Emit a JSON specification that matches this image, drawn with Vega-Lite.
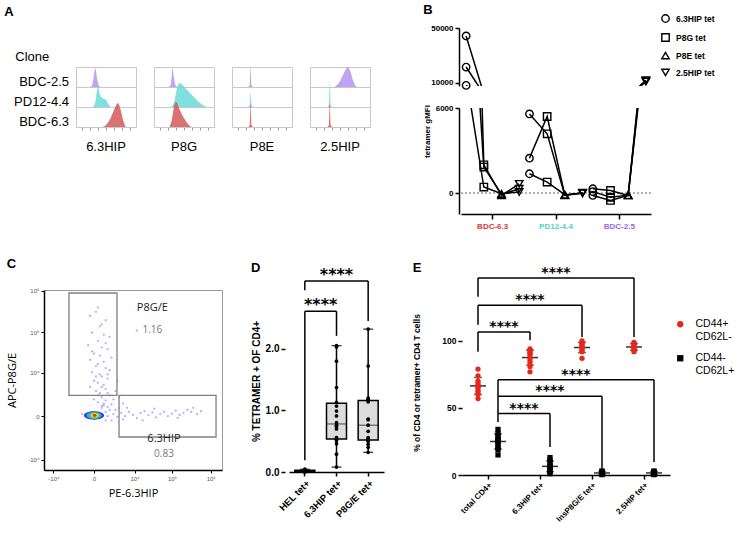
{
  "$schema": "https://vega.github.io/schema/vega-lite/v6.json",
  "padding": {"left": 4, "top": 4, "right": 0, "bottom": 0},
  "config": {
    "font": "Liberation Sans",
    "view": {"stroke": null},
    "axis": {"grid": false, "domainColor": "black", "tickColor": "black", "labelColor": "black", "titleColor": "black", "labelFont": "Liberation Sans", "titleFont": "Liberation Sans"},
    "title": {"fontSize": 13, "fontWeight": "bold", "anchor": "start", "frame": "bounds", "color": "black", "font": "Liberation Sans"},
    "header": {"labelFont": "Liberation Sans", "labelColor": "black"},
    "legend": {"labelFont": "Liberation Sans", "labelColor": "black"}
  },
  "datasets": {
    "hist": [
      {"tet": "6.3HIP", "clone": "BDC-2.5", "x": 0.22, "d": 0}, {"tet": "6.3HIP", "clone": "BDC-2.5", "x": 0.26, "d": 0.05}, {"tet": "6.3HIP", "clone": "BDC-2.5", "x": 0.29, "d": 0.4}, {"tet": "6.3HIP", "clone": "BDC-2.5", "x": 0.32, "d": 0.95}, {"tet": "6.3HIP", "clone": "BDC-2.5", "x": 0.35, "d": 0.45}, {"tet": "6.3HIP", "clone": "BDC-2.5", "x": 0.38, "d": 0.08}, {"tet": "6.3HIP", "clone": "BDC-2.5", "x": 0.42, "d": 0},
      {"tet": "6.3HIP", "clone": "PD12-4.4", "x": 0.28, "d": 0}, {"tet": "6.3HIP", "clone": "PD12-4.4", "x": 0.32, "d": 0.2}, {"tet": "6.3HIP", "clone": "PD12-4.4", "x": 0.35, "d": 0.8}, {"tet": "6.3HIP", "clone": "PD12-4.4", "x": 0.37, "d": 1.0}, {"tet": "6.3HIP", "clone": "PD12-4.4", "x": 0.40, "d": 0.6}, {"tet": "6.3HIP", "clone": "PD12-4.4", "x": 0.44, "d": 0.45}, {"tet": "6.3HIP", "clone": "PD12-4.4", "x": 0.50, "d": 0.35}, {"tet": "6.3HIP", "clone": "PD12-4.4", "x": 0.55, "d": 0.1}, {"tet": "6.3HIP", "clone": "PD12-4.4", "x": 0.58, "d": 0},
      {"tet": "6.3HIP", "clone": "BDC-6.3", "x": 0.44, "d": 0}, {"tet": "6.3HIP", "clone": "BDC-6.3", "x": 0.50, "d": 0.1}, {"tet": "6.3HIP", "clone": "BDC-6.3", "x": 0.56, "d": 0.35}, {"tet": "6.3HIP", "clone": "BDC-6.3", "x": 0.62, "d": 0.75}, {"tet": "6.3HIP", "clone": "BDC-6.3", "x": 0.67, "d": 1.1}, {"tet": "6.3HIP", "clone": "BDC-6.3", "x": 0.70, "d": 1.2}, {"tet": "6.3HIP", "clone": "BDC-6.3", "x": 0.74, "d": 0.9}, {"tet": "6.3HIP", "clone": "BDC-6.3", "x": 0.78, "d": 0.4}, {"tet": "6.3HIP", "clone": "BDC-6.3", "x": 0.82, "d": 0.05}, {"tet": "6.3HIP", "clone": "BDC-6.3", "x": 0.84, "d": 0},
      {"tet": "P8G", "clone": "BDC-2.5", "x": 0.23, "d": 0}, {"tet": "P8G", "clone": "BDC-2.5", "x": 0.27, "d": 0.05}, {"tet": "P8G", "clone": "BDC-2.5", "x": 0.29, "d": 0.4}, {"tet": "P8G", "clone": "BDC-2.5", "x": 0.31, "d": 0.95}, {"tet": "P8G", "clone": "BDC-2.5", "x": 0.33, "d": 0.5}, {"tet": "P8G", "clone": "BDC-2.5", "x": 0.36, "d": 0.08}, {"tet": "P8G", "clone": "BDC-2.5", "x": 0.40, "d": 0},
      {"tet": "P8G", "clone": "PD12-4.4", "x": 0.28, "d": 0}, {"tet": "P8G", "clone": "PD12-4.4", "x": 0.34, "d": 0.3}, {"tet": "P8G", "clone": "PD12-4.4", "x": 0.38, "d": 0.9}, {"tet": "P8G", "clone": "PD12-4.4", "x": 0.42, "d": 1.2}, {"tet": "P8G", "clone": "PD12-4.4", "x": 0.46, "d": 1.15}, {"tet": "P8G", "clone": "PD12-4.4", "x": 0.52, "d": 0.95}, {"tet": "P8G", "clone": "PD12-4.4", "x": 0.60, "d": 0.7}, {"tet": "P8G", "clone": "PD12-4.4", "x": 0.68, "d": 0.45}, {"tet": "P8G", "clone": "PD12-4.4", "x": 0.76, "d": 0.22}, {"tet": "P8G", "clone": "PD12-4.4", "x": 0.84, "d": 0.05}, {"tet": "P8G", "clone": "PD12-4.4", "x": 0.88, "d": 0},
      {"tet": "P8G", "clone": "BDC-6.3", "x": 0.26, "d": 0}, {"tet": "P8G", "clone": "BDC-6.3", "x": 0.30, "d": 0.4}, {"tet": "P8G", "clone": "BDC-6.3", "x": 0.34, "d": 1.1}, {"tet": "P8G", "clone": "BDC-6.3", "x": 0.37, "d": 1.25}, {"tet": "P8G", "clone": "BDC-6.3", "x": 0.41, "d": 1.0}, {"tet": "P8G", "clone": "BDC-6.3", "x": 0.47, "d": 0.6}, {"tet": "P8G", "clone": "BDC-6.3", "x": 0.53, "d": 0.3}, {"tet": "P8G", "clone": "BDC-6.3", "x": 0.58, "d": 0.1}, {"tet": "P8G", "clone": "BDC-6.3", "x": 0.62, "d": 0},
      {"tet": "P8E", "clone": "BDC-2.5", "x": 0.27, "d": 0}, {"tet": "P8E", "clone": "BDC-2.5", "x": 0.295, "d": 0.1}, {"tet": "P8E", "clone": "BDC-2.5", "x": 0.31, "d": 1.0}, {"tet": "P8E", "clone": "BDC-2.5", "x": 0.325, "d": 0.1}, {"tet": "P8E", "clone": "BDC-2.5", "x": 0.35, "d": 0},
      {"tet": "P8E", "clone": "PD12-4.4", "x": 0.27, "d": 0}, {"tet": "P8E", "clone": "PD12-4.4", "x": 0.295, "d": 0.1}, {"tet": "P8E", "clone": "PD12-4.4", "x": 0.31, "d": 0.7}, {"tet": "P8E", "clone": "PD12-4.4", "x": 0.325, "d": 0.1}, {"tet": "P8E", "clone": "PD12-4.4", "x": 0.35, "d": 0},
      {"tet": "P8E", "clone": "BDC-6.3", "x": 0.27, "d": 0}, {"tet": "P8E", "clone": "BDC-6.3", "x": 0.295, "d": 0.1}, {"tet": "P8E", "clone": "BDC-6.3", "x": 0.31, "d": 1.2}, {"tet": "P8E", "clone": "BDC-6.3", "x": 0.325, "d": 0.1}, {"tet": "P8E", "clone": "BDC-6.3", "x": 0.35, "d": 0},
      {"tet": "2.5HIP", "clone": "BDC-2.5", "x": 0.40, "d": 0}, {"tet": "2.5HIP", "clone": "BDC-2.5", "x": 0.45, "d": 0.1}, {"tet": "2.5HIP", "clone": "BDC-2.5", "x": 0.50, "d": 0.3}, {"tet": "2.5HIP", "clone": "BDC-2.5", "x": 0.55, "d": 0.6}, {"tet": "2.5HIP", "clone": "BDC-2.5", "x": 0.60, "d": 0.9}, {"tet": "2.5HIP", "clone": "BDC-2.5", "x": 0.63, "d": 1.0}, {"tet": "2.5HIP", "clone": "BDC-2.5", "x": 0.67, "d": 0.8}, {"tet": "2.5HIP", "clone": "BDC-2.5", "x": 0.71, "d": 0.4}, {"tet": "2.5HIP", "clone": "BDC-2.5", "x": 0.75, "d": 0.1}, {"tet": "2.5HIP", "clone": "BDC-2.5", "x": 0.78, "d": 0},
      {"tet": "2.5HIP", "clone": "PD12-4.4", "x": 0.29, "d": 0}, {"tet": "2.5HIP", "clone": "PD12-4.4", "x": 0.315, "d": 0.1}, {"tet": "2.5HIP", "clone": "PD12-4.4", "x": 0.33, "d": 1.3}, {"tet": "2.5HIP", "clone": "PD12-4.4", "x": 0.345, "d": 0.1}, {"tet": "2.5HIP", "clone": "PD12-4.4", "x": 0.37, "d": 0},
      {"tet": "2.5HIP", "clone": "BDC-6.3", "x": 0.29, "d": 0}, {"tet": "2.5HIP", "clone": "BDC-6.3", "x": 0.315, "d": 0.1}, {"tet": "2.5HIP", "clone": "BDC-6.3", "x": 0.33, "d": 1.25}, {"tet": "2.5HIP", "clone": "BDC-6.3", "x": 0.345, "d": 0.1}, {"tet": "2.5HIP", "clone": "BDC-6.3", "x": 0.37, "d": 0}
    ],
    "clones": [{"clone": "BDC-2.5"}, {"clone": "PD12-4.4"}, {"clone": "BDC-6.3"}],
    "gmfi": [
      {"clone": "BDC-6.3", "rep": 1, "tet": "6.3HIP tet", "v": 44200}, {"clone": "BDC-6.3", "rep": 1, "tet": "P8G tet", "v": 1990}, {"clone": "BDC-6.3", "rep": 1, "tet": "P8E tet", "v": -170}, {"clone": "BDC-6.3", "rep": 1, "tet": "2.5HIP tet", "v": 650},
      {"clone": "BDC-6.3", "rep": 2, "tet": "6.3HIP tet", "v": 21600}, {"clone": "BDC-6.3", "rep": 2, "tet": "P8G tet", "v": 1830}, {"clone": "BDC-6.3", "rep": 2, "tet": "P8E tet", "v": -100}, {"clone": "BDC-6.3", "rep": 2, "tet": "2.5HIP tet", "v": 300},
      {"clone": "BDC-6.3", "rep": 3, "tet": "6.3HIP tet", "v": 8250}, {"clone": "BDC-6.3", "rep": 3, "tet": "P8G tet", "v": 420}, {"clone": "BDC-6.3", "rep": 3, "tet": "P8E tet", "v": -50}, {"clone": "BDC-6.3", "rep": 3, "tet": "2.5HIP tet", "v": 70},
      {"clone": "PD12-4.4", "rep": 1, "tet": "6.3HIP tet", "v": 5580}, {"clone": "PD12-4.4", "rep": 1, "tet": "P8G tet", "v": 4180}, {"clone": "PD12-4.4", "rep": 1, "tet": "P8E tet", "v": -170}, {"clone": "PD12-4.4", "rep": 1, "tet": "2.5HIP tet", "v": 0},
      {"clone": "PD12-4.4", "rep": 2, "tet": "6.3HIP tet", "v": 2460}, {"clone": "PD12-4.4", "rep": 2, "tet": "P8G tet", "v": 5400}, {"clone": "PD12-4.4", "rep": 2, "tet": "P8E tet", "v": -150}, {"clone": "PD12-4.4", "rep": 2, "tet": "2.5HIP tet", "v": 20},
      {"clone": "PD12-4.4", "rep": 3, "tet": "6.3HIP tet", "v": 1360}, {"clone": "PD12-4.4", "rep": 3, "tet": "P8G tet", "v": 770}, {"clone": "PD12-4.4", "rep": 3, "tet": "P8E tet", "v": -120}, {"clone": "PD12-4.4", "rep": 3, "tet": "2.5HIP tet", "v": -20},
      {"clone": "BDC-2.5", "rep": 1, "tet": "6.3HIP tet", "v": 300}, {"clone": "BDC-2.5", "rep": 1, "tet": "P8G tet", "v": 180}, {"clone": "BDC-2.5", "rep": 1, "tet": "P8E tet", "v": -170}, {"clone": "BDC-2.5", "rep": 1, "tet": "2.5HIP tet", "v": 12000},
      {"clone": "BDC-2.5", "rep": 2, "tet": "6.3HIP tet", "v": -170}, {"clone": "BDC-2.5", "rep": 2, "tet": "P8G tet", "v": -520}, {"clone": "BDC-2.5", "rep": 2, "tet": "P8E tet", "v": -170}, {"clone": "BDC-2.5", "rep": 2, "tet": "2.5HIP tet", "v": 11500},
      {"clone": "BDC-2.5", "rep": 3, "tet": "6.3HIP tet", "v": 100}, {"clone": "BDC-2.5", "rep": 3, "tet": "P8G tet", "v": -300}, {"clone": "BDC-2.5", "rep": 3, "tet": "P8E tet", "v": -150}, {"clone": "BDC-2.5", "rep": 3, "tet": "2.5HIP tet", "v": 11000}
    ],
    "events": [
      {"x": -259, "y": 250189}, {"x": 122, "y": 315228}, {"x": 995, "y": 198526}, {"x": 413, "y": 140254}, {"x": -122, "y": 99000}, {"x": 778, "y": 88125}, {"x": 1512, "y": 78433}, {"x": 259, "y": 62096}, {"x": -413, "y": 49119}, {"x": 585, "y": 43668}, {"x": 1239, "y": 38811}, {"x": 0, "y": 30623}, {"x": 413, "y": 27184}, {"x": 1818, "y": 24119}, {"x": -259, "y": 21387}, {"x": 778, "y": 18953}, {"x": 122, "y": 14849}, {"x": 995, "y": 13125}, {"x": 1512, "y": 11589}, {"x": -122, "y": 10220}, {"x": 413, "y": 9000}, {"x": 585, "y": 7913}, {"x": 1239, "y": 6943}, {"x": 0, "y": 6079}, {"x": 259, "y": 5310}, {"x": 778, "y": 4623}, {"x": -259, "y": 4012}, {"x": 995, "y": 3467}, {"x": 122, "y": 2981}, {"x": 413, "y": 2548}, {"x": 1512, "y": 2162}, {"x": 585, "y": 1818}, {"x": 0, "y": 1512}, {"x": 995, "y": 1399}, {"x": 259, "y": 1138}, {"x": 778, "y": 995}, {"x": 1818, "y": 905}, {"x": 1239, "y": 660}, {"x": 2548, "y": 2981}, {"x": 3467, "y": 1818}, {"x": 4623, "y": 995}, {"x": 2981, "y": 6079}, {"x": 11589, "y": 111202},
      {"x": 259, "y": 397107}, {"x": 585, "y": 157489}, {"x": -122, "y": 34481}, {"x": 995, "y": 55234}, {"x": 259, "y": 16783}, {"x": 1239, "y": 9000}, {"x": 122, "y": 7913}, {"x": 585, "y": 4012}, {"x": 1239, "y": 2548}, {"x": 259, "y": 2162}, {"x": 2162, "y": 1512}, {"x": 585, "y": 778},
      {"x": 2162, "y": 122}, {"x": 2981, "y": -47}, {"x": 4012, "y": 202}, {"x": 5310, "y": 0}, {"x": 6943, "y": 259}, {"x": 9000, "y": 72}, {"x": 11589, "y": -122}, {"x": 14849, "y": 175}, {"x": 18953, "y": 318}, {"x": 24119, "y": 47}, {"x": 30623, "y": 230}, {"x": 38811, "y": -72}, {"x": 49119, "y": 122}, {"x": 62096, "y": 259}, {"x": 78433, "y": 0}, {"x": 99000, "y": 148}, {"x": 124893, "y": 349}, {"x": 157489, "y": 72}, {"x": 198526, "y": 202}, {"x": 250189, "y": 413}, {"x": 315228, "y": 259}, {"x": 353813, "y": 585}, {"x": 445684, "y": 122}, {"x": 561341, "y": 318}, {"x": 2548, "y": 413}, {"x": 3467, "y": 585}, {"x": 4623, "y": -202}, {"x": 16783, "y": -259}, {"x": 34481, "y": 514}, {"x": 140254, "y": -96}, {"x": 1818, "y": -259}, {"x": 6079, "y": 585},
      {"x": 995, "y": 259}, {"x": 1239, "y": 0}, {"x": 1512, "y": 413}, {"x": -995, "y": 122}, {"x": 995, "y": -259}, {"x": 585, "y": 585}, {"x": 778, "y": 778}
    ],
    "contour": [
      {"x": 0, "y": 40, "level": 1}, {"x": 0, "y": 40, "level": 2}, {"x": 20, "y": 40, "level": 3}, {"x": 40, "y": 40, "level": 4}, {"x": 40, "y": 40, "level": 5}
    ],
    "gates": [
      {"gate": "P8G/E", "x": -3400, "x2": 2900, "y": 2160, "y2": 890000},
      {"gate": "6.3HIP", "x": 3400, "x2": 1370000, "y": -2160, "y2": 2160}
    ],
    "gatelabels": [
      {"kind": "name", "t": "P8G/E", "x": 30600, "y": 397000},
      {"kind": "freq", "t": "1.16", "x": 30600, "y": 116000},
      {"kind": "name", "t": "6.3HIP", "x": 62000, "y": -2550},
      {"kind": "freq", "t": "0.83", "x": 62000, "y": -6900}
    ],
    "dpts": [
      {"cat": "HEL tet+", "v": 0.0}, {"cat": "HEL tet+", "v": 0.005}, {"cat": "HEL tet+", "v": 0.01}, {"cat": "HEL tet+", "v": 0.01}, {"cat": "HEL tet+", "v": 0.015}, {"cat": "HEL tet+", "v": 0.015}, {"cat": "HEL tet+", "v": 0.02}, {"cat": "HEL tet+", "v": 0.02}, {"cat": "HEL tet+", "v": 0.02}, {"cat": "HEL tet+", "v": 0.025}, {"cat": "HEL tet+", "v": 0.03}, {"cat": "HEL tet+", "v": 0.03}, {"cat": "HEL tet+", "v": 0.035}, {"cat": "HEL tet+", "v": 0.04}, {"cat": "HEL tet+", "v": 0.045},
      {"cat": "6.3HIP tet+", "v": 2.05}, {"cat": "6.3HIP tet+", "v": 2.03}, {"cat": "6.3HIP tet+", "v": 1.80}, {"cat": "6.3HIP tet+", "v": 1.37}, {"cat": "6.3HIP tet+", "v": 1.13}, {"cat": "6.3HIP tet+", "v": 1.07}, {"cat": "6.3HIP tet+", "v": 0.99}, {"cat": "6.3HIP tet+", "v": 0.91}, {"cat": "6.3HIP tet+", "v": 0.80}, {"cat": "6.3HIP tet+", "v": 0.76}, {"cat": "6.3HIP tet+", "v": 0.74}, {"cat": "6.3HIP tet+", "v": 0.70}, {"cat": "6.3HIP tet+", "v": 0.56}, {"cat": "6.3HIP tet+", "v": 0.53}, {"cat": "6.3HIP tet+", "v": 0.51}, {"cat": "6.3HIP tet+", "v": 0.46}, {"cat": "6.3HIP tet+", "v": 0.29}, {"cat": "6.3HIP tet+", "v": 0.08},
      {"cat": "P8G/E tet+", "v": 2.32}, {"cat": "P8G/E tet+", "v": 1.72}, {"cat": "P8G/E tet+", "v": 1.20}, {"cat": "P8G/E tet+", "v": 1.18}, {"cat": "P8G/E tet+", "v": 1.16}, {"cat": "P8G/E tet+", "v": 1.14}, {"cat": "P8G/E tet+", "v": 0.86}, {"cat": "P8G/E tet+", "v": 0.85}, {"cat": "P8G/E tet+", "v": 0.76}, {"cat": "P8G/E tet+", "v": 0.66}, {"cat": "P8G/E tet+", "v": 0.56}, {"cat": "P8G/E tet+", "v": 0.53}, {"cat": "P8G/E tet+", "v": 0.52}, {"cat": "P8G/E tet+", "v": 0.50}, {"cat": "P8G/E tet+", "v": 0.45}, {"cat": "P8G/E tet+", "v": 0.40}, {"cat": "P8G/E tet+", "v": 0.32}
    ],
    "dbr": [
      {"id": "b1", "a": "HEL tet+", "b": "P8G/E tet+", "m": "6.3HIP tet+", "y": 3.10, "s": "****"},
      {"id": "b2", "a": "HEL tet+", "b": "6.3HIP tet+", "m": "6.3HIP tet+", "y": 2.61, "s": "****"}
    ],
    "dlegs": [
      {"a": "HEL tet+", "y": 3.10, "y2": 2.95}, {"a": "P8G/E tet+", "y": 3.10, "y2": 2.45},
      {"a": "HEL tet+", "y": 2.61, "y2": 0.19}, {"a": "6.3HIP tet+", "y": 2.61, "y2": 2.21}
    ],
    "epts": [
      {"cat": "total CD4+", "grp": "CD44+ CD62L-", "v": 79}, {"cat": "total CD4+", "grp": "CD44+ CD62L-", "v": 74}, {"cat": "total CD4+", "grp": "CD44+ CD62L-", "v": 70}, {"cat": "total CD4+", "grp": "CD44+ CD62L-", "v": 68}, {"cat": "total CD4+", "grp": "CD44+ CD62L-", "v": 67}, {"cat": "total CD4+", "grp": "CD44+ CD62L-", "v": 66}, {"cat": "total CD4+", "grp": "CD44+ CD62L-", "v": 65}, {"cat": "total CD4+", "grp": "CD44+ CD62L-", "v": 63}, {"cat": "total CD4+", "grp": "CD44+ CD62L-", "v": 62}, {"cat": "total CD4+", "grp": "CD44+ CD62L-", "v": 60}, {"cat": "total CD4+", "grp": "CD44+ CD62L-", "v": 57},
      {"cat": "6.3HIP tet+", "grp": "CD44+ CD62L-", "v": 94}, {"cat": "6.3HIP tet+", "grp": "CD44+ CD62L-", "v": 93}, {"cat": "6.3HIP tet+", "grp": "CD44+ CD62L-", "v": 92}, {"cat": "6.3HIP tet+", "grp": "CD44+ CD62L-", "v": 91}, {"cat": "6.3HIP tet+", "grp": "CD44+ CD62L-", "v": 90}, {"cat": "6.3HIP tet+", "grp": "CD44+ CD62L-", "v": 88}, {"cat": "6.3HIP tet+", "grp": "CD44+ CD62L-", "v": 86}, {"cat": "6.3HIP tet+", "grp": "CD44+ CD62L-", "v": 84}, {"cat": "6.3HIP tet+", "grp": "CD44+ CD62L-", "v": 81}, {"cat": "6.3HIP tet+", "grp": "CD44+ CD62L-", "v": 77},
      {"cat": "InsP8G/E tet+", "grp": "CD44+ CD62L-", "v": 100}, {"cat": "InsP8G/E tet+", "grp": "CD44+ CD62L-", "v": 99}, {"cat": "InsP8G/E tet+", "grp": "CD44+ CD62L-", "v": 98}, {"cat": "InsP8G/E tet+", "grp": "CD44+ CD62L-", "v": 97}, {"cat": "InsP8G/E tet+", "grp": "CD44+ CD62L-", "v": 96}, {"cat": "InsP8G/E tet+", "grp": "CD44+ CD62L-", "v": 95}, {"cat": "InsP8G/E tet+", "grp": "CD44+ CD62L-", "v": 94}, {"cat": "InsP8G/E tet+", "grp": "CD44+ CD62L-", "v": 93}, {"cat": "InsP8G/E tet+", "grp": "CD44+ CD62L-", "v": 92}, {"cat": "InsP8G/E tet+", "grp": "CD44+ CD62L-", "v": 87},
      {"cat": "2.5HIP tet+", "grp": "CD44+ CD62L-", "v": 99}, {"cat": "2.5HIP tet+", "grp": "CD44+ CD62L-", "v": 98}, {"cat": "2.5HIP tet+", "grp": "CD44+ CD62L-", "v": 97}, {"cat": "2.5HIP tet+", "grp": "CD44+ CD62L-", "v": 96}, {"cat": "2.5HIP tet+", "grp": "CD44+ CD62L-", "v": 95}, {"cat": "2.5HIP tet+", "grp": "CD44+ CD62L-", "v": 94}, {"cat": "2.5HIP tet+", "grp": "CD44+ CD62L-", "v": 93}, {"cat": "2.5HIP tet+", "grp": "CD44+ CD62L-", "v": 92},
      {"cat": "total CD4+", "grp": "CD44- CD62L+", "v": 34}, {"cat": "total CD4+", "grp": "CD44- CD62L+", "v": 31}, {"cat": "total CD4+", "grp": "CD44- CD62L+", "v": 29}, {"cat": "total CD4+", "grp": "CD44- CD62L+", "v": 27}, {"cat": "total CD4+", "grp": "CD44- CD62L+", "v": 26}, {"cat": "total CD4+", "grp": "CD44- CD62L+", "v": 25}, {"cat": "total CD4+", "grp": "CD44- CD62L+", "v": 23}, {"cat": "total CD4+", "grp": "CD44- CD62L+", "v": 21}, {"cat": "total CD4+", "grp": "CD44- CD62L+", "v": 19}, {"cat": "total CD4+", "grp": "CD44- CD62L+", "v": 15},
      {"cat": "6.3HIP tet+", "grp": "CD44- CD62L+", "v": 13}, {"cat": "6.3HIP tet+", "grp": "CD44- CD62L+", "v": 11}, {"cat": "6.3HIP tet+", "grp": "CD44- CD62L+", "v": 9}, {"cat": "6.3HIP tet+", "grp": "CD44- CD62L+", "v": 7}, {"cat": "6.3HIP tet+", "grp": "CD44- CD62L+", "v": 6}, {"cat": "6.3HIP tet+", "grp": "CD44- CD62L+", "v": 5}, {"cat": "6.3HIP tet+", "grp": "CD44- CD62L+", "v": 4}, {"cat": "6.3HIP tet+", "grp": "CD44- CD62L+", "v": 2}, {"cat": "6.3HIP tet+", "grp": "CD44- CD62L+", "v": 1},
      {"cat": "InsP8G/E tet+", "grp": "CD44- CD62L+", "v": 3}, {"cat": "InsP8G/E tet+", "grp": "CD44- CD62L+", "v": 2.5}, {"cat": "InsP8G/E tet+", "grp": "CD44- CD62L+", "v": 2}, {"cat": "InsP8G/E tet+", "grp": "CD44- CD62L+", "v": 1.5}, {"cat": "InsP8G/E tet+", "grp": "CD44- CD62L+", "v": 1.2}, {"cat": "InsP8G/E tet+", "grp": "CD44- CD62L+", "v": 1}, {"cat": "InsP8G/E tet+", "grp": "CD44- CD62L+", "v": 0.6}, {"cat": "InsP8G/E tet+", "grp": "CD44- CD62L+", "v": 0.3},
      {"cat": "2.5HIP tet+", "grp": "CD44- CD62L+", "v": 3}, {"cat": "2.5HIP tet+", "grp": "CD44- CD62L+", "v": 2.5}, {"cat": "2.5HIP tet+", "grp": "CD44- CD62L+", "v": 2}, {"cat": "2.5HIP tet+", "grp": "CD44- CD62L+", "v": 1.5}, {"cat": "2.5HIP tet+", "grp": "CD44- CD62L+", "v": 1}, {"cat": "2.5HIP tet+", "grp": "CD44- CD62L+", "v": 0.5}, {"cat": "2.5HIP tet+", "grp": "CD44- CD62L+", "v": 0.3}
    ],
    "ebr": [
      {"id": "r1", "grp": "red", "a": "total CD4+", "b": "2.5HIP tet+", "m": "InsP8G/E tet+", "y": 147, "s": "****"},
      {"id": "r2", "grp": "red", "a": "total CD4+", "b": "InsP8G/E tet+", "m": "6.3HIP tet+", "y": 126.6, "s": "****"},
      {"id": "r3", "grp": "red", "a": "total CD4+", "b": "6.3HIP tet+", "m": "6.3HIP tet+", "y": 106.7, "s": "****"},
      {"id": "k4", "grp": "black", "a": "total CD4+", "b": "2.5HIP tet+", "m": "InsP8G/E tet+", "y": 71.1, "s": "****"},
      {"id": "k5", "grp": "black", "a": "total CD4+", "b": "InsP8G/E tet+", "m": "6.3HIP tet+", "y": 58.7, "s": "****"},
      {"id": "k6", "grp": "black", "a": "total CD4+", "b": "6.3HIP tet+", "m": "6.3HIP tet+", "y": 45.8, "s": "****"}
    ],
    "elegs": [
      {"grp": "red", "a": "total CD4+", "y": 147, "y2": 133}, {"grp": "red", "a": "2.5HIP tet+", "y": 147, "y2": 103},
      {"grp": "red", "a": "total CD4+", "y": 126.6, "y2": 112}, {"grp": "red", "a": "InsP8G/E tet+", "y": 126.6, "y2": 103},
      {"grp": "red", "a": "total CD4+", "y": 106.7, "y2": 92}, {"grp": "red", "a": "6.3HIP tet+", "y": 106.7, "y2": 100.5},
      {"grp": "black", "a": "total CD4+", "y": 71.1, "y2": 39.6}, {"grp": "black", "a": "2.5HIP tet+", "y": 71.1, "y2": 9.7},
      {"grp": "black", "a": "InsP8G/E tet+", "y": 58.7, "y2": 4.7}, {"grp": "black", "a": "6.3HIP tet+", "y": 45.8, "y2": 20.9}
    ]
  },
  "resolve": {"scale": {"color": "independent", "shape": "independent", "size": "independent"}},
  "spacing": 27,
  "vconcat": [
    {
      "spacing": 52,
      "resolve": {"scale": {"color": "independent", "shape": "independent", "size": "independent"}},
      "hconcat": [
        {
          "spacing": 2,
          "vconcat": [
            {
              "title": {"text": "A", "offset": 9, "dx": -11},
              "width": 25,
              "height": 36,
              "data": {"values": [{"t": "Clone"}]},
              "mark": {"type": "text", "align": "left", "baseline": "bottom", "fontSize": 13, "font": "Liberation Sans", "color": "black"},
              "encoding": {
                "x": {"datum": -1.15, "type": "quantitative", "scale": {"domain": [0, 1]}, "axis": null},
                "y": {"datum": 0, "type": "quantitative", "scale": {"domain": [0, 1]}, "axis": null},
                "text": {"field": "t"}
              }
            },
            {
              "spacing": 6,
              "hconcat": [
                {
                  "width": 25,
                  "height": 60,
                  "data": {"name": "clones"},
                  "mark": {"type": "text", "align": "right", "fontSize": 13, "font": "Liberation Sans", "color": "black"},
                  "encoding": {
                    "x": {"datum": 1, "type": "quantitative", "scale": {"domain": [0, 1]}, "axis": null},
                    "y": {"field": "clone", "type": "nominal", "bandPosition": 0.75, "sort": ["BDC-2.5", "PD12-4.4", "BDC-6.3"], "scale": {"type": "band", "paddingInner": 0, "paddingOuter": 0}, "axis": null},
                    "text": {"field": "clone"}
                  }
                },
                {
                  "data": {"name": "hist"},
                  "bounds": "flush",
                  "facet": {
                    "row": {"field": "clone", "type": "nominal", "sort": ["BDC-2.5", "PD12-4.4", "BDC-6.3"], "header": {"title": null, "labels": false}},
                    "column": {"field": "tet", "type": "nominal", "sort": ["6.3HIP", "P8G", "P8E", "2.5HIP"], "header": {"title": null, "labelOrient": "bottom", "labelFontSize": 13, "labelPadding": 10}}
                  },
                  "spacing": {"row": 0, "column": 18},
                  "spec": {
                    "width": 60,
                    "height": 20,
                    "view": {"stroke": "#c8c8c8"},
                    "mark": {"type": "area", "interpolate": "monotone", "opacity": 0.8},
                    "encoding": {
                      "x": {"field": "x", "type": "quantitative", "scale": {"domain": [0, 1]}, "axis": {"values": [0.1, 0.23, 0.36, 0.5, 0.64, 0.77, 0.9], "labels": false, "domain": false, "tickSize": 3, "tickColor": "#999", "title": null}},
                      "y": {"field": "d", "type": "quantitative", "stack": null, "scale": {"domain": [0, 1]}, "axis": null},
                      "color": {"field": "clone", "type": "nominal", "scale": {"domain": ["BDC-2.5", "PD12-4.4", "BDC-6.3"], "range": ["#b08cf0", "#5fd8d4", "#d24f4f"]}, "legend": null}
                    }
                  }
                }
              ]
            }
          ]
        },
        {
          "title": {"text": "B", "offset": -3},
          "spacing": 12,
          "resolve": {"scale": {"x": "independent", "xOffset": "independent", "y": "independent", "shape": "independent"}},
          "vconcat": [
            {
              "width": 190,
              "height": 58,
              "data": {"name": "gmfi"},
              "layer": [
                {
                  "mark": {"type": "line", "clip": true, "color": "black", "strokeWidth": 1.5},
                  "encoding": {
                    "x": {"field": "clone", "type": "nominal", "sort": ["BDC-6.3", "PD12-4.4", "BDC-2.5"], "scale": {"type": "band", "paddingInner": 0, "paddingOuter": 0}, "axis": null},
                    "xOffset": {"field": "tet", "type": "nominal", "sort": ["6.3HIP tet", "P8G tet", "P8E tet", "2.5HIP tet"], "scale": {"paddingInner": 0, "paddingOuter": 0.29}},
                    "y": {"field": "v", "type": "quantitative", "scale": {"domain": [7800, 50000], "nice": false, "zero": false}, "axis": {"values": [10000, 20000, 30000, 40000, 50000], "format": "d", "title": null, "labelFontSize": 8, "labelFontWeight": "bold", "tickSize": 4, "domainWidth": 1.5, "tickWidth": 1.5, "labelPadding": 2, "offset": 2}},
                    "detail": [{"field": "clone", "type": "nominal"}, {"field": "rep", "type": "nominal"}],
                    "order": {"value": null}
                  }
                },
                {
                  "transform": [{"filter": "datum.v >= 7800"}],
                  "mark": {"type": "point", "filled": false, "color": "black", "strokeWidth": 1.4, "size": 55, "opacity": 1},
                  "encoding": {
                    "x": {"field": "clone", "type": "nominal", "sort": ["BDC-6.3", "PD12-4.4", "BDC-2.5"]},
                    "xOffset": {"field": "tet", "type": "nominal", "sort": ["6.3HIP tet", "P8G tet", "P8E tet", "2.5HIP tet"]},
                    "y": {"field": "v", "type": "quantitative"},
                    "shape": {"field": "tet", "type": "nominal", "scale": {"domain": ["6.3HIP tet", "P8G tet", "P8E tet", "2.5HIP tet"], "range": ["circle", "square", "triangle-up", "triangle-down"]}, "legend": {"title": null, "orient": "none", "legendX": 200, "legendY": -14, "labelFontSize": 8.5, "labelFontWeight": "bold", "symbolStrokeColor": "black", "symbolStrokeWidth": 1.4, "symbolOpacity": 1, "symbolSize": 55, "rowPadding": 4, "labelOffset": 6}}
                  }
                }
              ]
            },
            {
              "width": 190,
              "height": 106,
              "data": {"name": "gmfi"},
              "layer": [
                {
                  "mark": {"type": "rule", "strokeDash": [2, 2], "color": "#b0b0b0", "strokeWidth": 1},
                  "encoding": {"y": {"datum": 0}}
                },
                {
                  "mark": {"type": "line", "clip": true, "color": "black", "strokeWidth": 1.5},
                  "encoding": {
                    "x": {"field": "clone", "type": "nominal", "sort": ["BDC-6.3", "PD12-4.4", "BDC-2.5"], "scale": {"type": "band", "paddingInner": 0, "paddingOuter": 0}, "axis": {"title": null, "labelAngle": 0, "labelFont": "Liberation Sans", "labelFontSize": 8, "labelFontWeight": "bold", "labelColor": {"expr": "datum.value === 'BDC-6.3' ? '#d9383a' : datum.value === 'PD12-4.4' ? '#4fd3cf' : '#9a66ee'"}, "tickSize": 5, "labelPadding": 3, "domainWidth": 1.5, "tickWidth": 1.5}},
                    "xOffset": {"field": "tet", "type": "nominal", "sort": ["6.3HIP tet", "P8G tet", "P8E tet", "2.5HIP tet"], "scale": {"paddingInner": 0, "paddingOuter": 0.29}},
                    "y": {"field": "v", "type": "quantitative", "scale": {"domain": [-1480, 6000], "nice": false, "zero": false}, "axis": {"values": [0, 2000, 4000, 6000], "format": "d", "title": "tetramer gMFI", "titleFontSize": 8, "titleFontWeight": "bold", "titleY": 23, "labelFontSize": 8, "labelFontWeight": "bold", "tickSize": 4, "domainWidth": 1.5, "tickWidth": 1.5, "labelPadding": 2, "offset": 2}},
                    "detail": [{"field": "clone", "type": "nominal"}, {"field": "rep", "type": "nominal"}],
                    "order": {"value": null}
                  }
                },
                {
                  "transform": [{"filter": "datum.v <= 6000"}],
                  "mark": {"type": "point", "filled": false, "color": "black", "strokeWidth": 1.4, "size": 55, "opacity": 1},
                  "encoding": {
                    "x": {"field": "clone", "type": "nominal", "sort": ["BDC-6.3", "PD12-4.4", "BDC-2.5"]},
                    "xOffset": {"field": "tet", "type": "nominal", "sort": ["6.3HIP tet", "P8G tet", "P8E tet", "2.5HIP tet"]},
                    "y": {"field": "v", "type": "quantitative"},
                    "shape": {"field": "tet", "type": "nominal", "scale": {"domain": ["6.3HIP tet", "P8G tet", "P8E tet", "2.5HIP tet"], "range": ["circle", "square", "triangle-up", "triangle-down"]}, "legend": null}
                  }
                }
              ]
            }
          ]
        }
      ]
    },
    {
      "spacing": 28,
      "resolve": {"scale": {"color": "independent", "shape": "independent", "size": "independent"}},
      "hconcat": [
        {
          "title": {"text": "C", "offset": 17},
          "width": 178,
          "height": 180,
          "view": {"stroke": "#9a9a9a"},
          "layer": [
            {
              "data": {"name": "events"},
              "mark": {"type": "circle", "size": 5, "color": "#6f6ff5", "opacity": 0.55},
              "encoding": {
                "x": {"field": "x", "type": "quantitative", "title": "PE-6.3HIP", "scale": {"type": "symlog", "constant": 1000, "domain": [-18300, 1950000], "nice": false, "zero": false}, "axis": {"titleFont": "Open Sans", "titleFontSize": 11, "titleFontWeight": "normal", "values": [-10000, 0, 10000, 100000, 1000000], "labelExpr": "datum.value == 0 ? '0' : datum.value < 0 ? '-10⁴' : datum.value >= 1000000 ? '10⁶' : datum.value >= 100000 ? '10⁵' : '10⁴'", "labelFontSize": 6, "labelColor": "#555", "tickSize": 3, "domainWidth": 1.5, "titlePadding": 6}},
                "y": {"field": "y", "type": "quantitative", "title": "APC-P8G/E", "scale": {"type": "symlog", "constant": 1000, "domain": [-18500, 1050000], "nice": false, "zero": false}, "axis": {"titleFont": "Open Sans", "titleFontSize": 11, "titleFontWeight": "normal", "values": [-10000, 0, 10000, 100000, 1000000], "labelExpr": "datum.value == 0 ? '0' : datum.value < 0 ? '-10⁴' : datum.value >= 1000000 ? '10⁶' : datum.value >= 100000 ? '10⁵' : '10⁴'", "labelFontSize": 6, "labelColor": "#555", "tickSize": 3, "domainWidth": 1.5, "titlePadding": 10}}
              }
            },
            {
              "data": {"name": "contour"},
              "transform": [{"filter": "datum.level === 1"}],
              "mark": {"type": "point", "filled": true, "opacity": 1, "color": "#2535f5", "size": 400, "shape": "M-1,0A1,0.42,0,1,0,1,0A1,0.42,0,1,0,-1,0Z"},
              "encoding": {"x": {"field": "x", "type": "quantitative", "title": "PE-6.3HIP"}, "y": {"field": "y", "type": "quantitative", "title": "APC-P8G/E"}}
            },
            {
              "data": {"name": "contour"},
              "transform": [{"filter": "datum.level === 2"}],
              "mark": {"type": "point", "filled": true, "opacity": 1, "color": "#27a8f5", "size": 240, "shape": "M-1,0A1,0.45,0,1,0,1,0A1,0.45,0,1,0,-1,0Z"},
              "encoding": {"x": {"field": "x", "type": "quantitative", "title": "PE-6.3HIP"}, "y": {"field": "y", "type": "quantitative", "title": "APC-P8G/E"}}
            },
            {
              "data": {"name": "contour"},
              "transform": [{"filter": "datum.level === 3"}],
              "mark": {"type": "point", "filled": true, "opacity": 1, "color": "#3fd24a", "size": 130, "shape": "M-1,0A1,0.5,0,1,0,1,0A1,0.5,0,1,0,-1,0Z"},
              "encoding": {"x": {"field": "x", "type": "quantitative", "title": "PE-6.3HIP"}, "y": {"field": "y", "type": "quantitative", "title": "APC-P8G/E"}}
            },
            {
              "data": {"name": "contour"},
              "transform": [{"filter": "datum.level === 4"}],
              "mark": {"type": "point", "filled": true, "opacity": 1, "color": "#f2e52a", "size": 60, "shape": "M-1,0A1,0.55,0,1,0,1,0A1,0.55,0,1,0,-1,0Z"},
              "encoding": {"x": {"field": "x", "type": "quantitative", "title": "PE-6.3HIP"}, "y": {"field": "y", "type": "quantitative", "title": "APC-P8G/E"}}
            },
            {
              "data": {"name": "contour"},
              "transform": [{"filter": "datum.level === 5"}],
              "mark": {"type": "point", "filled": true, "opacity": 1, "color": "#ff2a00", "size": 18, "shape": "M-1,0A1,0.7,0,1,0,1,0A1,0.7,0,1,0,-1,0Z"},
              "encoding": {"x": {"field": "x", "type": "quantitative", "title": "PE-6.3HIP"}, "y": {"field": "y", "type": "quantitative", "title": "APC-P8G/E"}}
            },
            {
              "data": {"name": "gates"},
              "mark": {"type": "rect", "filled": false, "stroke": "#808080", "strokeWidth": 1.3},
              "encoding": {
                "x": {"field": "x", "type": "quantitative", "title": "PE-6.3HIP"},
                "x2": {"field": "x2"},
                "y": {"field": "y", "type": "quantitative", "title": "APC-P8G/E"},
                "y2": {"field": "y2"}
              }
            },
            {
              "data": {"name": "gatelabels"},
              "transform": [{"filter": "datum.kind === 'name'"}],
              "mark": {"type": "text", "font": "Open Sans", "fontSize": 11, "color": "#222"},
              "encoding": {
                "x": {"field": "x", "type": "quantitative", "title": "PE-6.3HIP"},
                "y": {"field": "y", "type": "quantitative", "title": "APC-P8G/E"},
                "text": {"field": "t"}
              }
            },
            {
              "data": {"name": "gatelabels"},
              "transform": [{"filter": "datum.kind === 'freq'"}],
              "mark": {"type": "text", "font": "Open Sans", "fontSize": 10, "color": "#777"},
              "encoding": {
                "x": {"field": "x", "type": "quantitative", "title": "PE-6.3HIP"},
                "y": {"field": "y", "type": "quantitative", "title": "APC-P8G/E"},
                "text": {"field": "t"}
              }
            }
          ]
        },
        {
          "title": {"text": "D", "offset": -8},
          "width": 95,
          "height": 182,
          "layer": [
            {
              "data": {"name": "dpts"},
              "mark": {"type": "boxplot", "extent": "min-max", "size": 20, "color": "#dcdcdc", "box": {"stroke": "black", "strokeWidth": 1.5}, "median": {"color": "black", "strokeWidth": 1.5}, "rule": {"color": "black", "strokeWidth": 1.5}, "ticks": {"color": "black", "strokeWidth": 1.5, "size": 10}},
              "encoding": {
                "x": {"field": "cat", "type": "nominal", "title": null, "sort": ["HEL tet+", "6.3HIP tet+", "P8G/E tet+"], "scale": {"domain": ["HEL tet+", "6.3HIP tet+", "P8G/E tet+"], "paddingInner": 0, "paddingOuter": 0}, "axis": {"title": null, "labelAngle": -45, "labelFontSize": 9.5, "labelFontWeight": "bold", "labelAlign": "right", "labelBaseline": "top", "tickSize": 4, "domainWidth": 1.5, "tickWidth": 1.5}},
                "y": {"field": "v", "type": "quantitative", "title": "% TETRAMER + OF CD4+", "scale": {"domain": [0, 2.955], "nice": false}, "axis": {"titleFontSize": 10, "titleFontWeight": "bold", "values": [0, 0.5, 1, 1.5, 2, 2.5], "format": ".1f", "labelFontSize": 10, "labelFontWeight": "bold", "offset": 4, "domain": false, "tickWidth": 1.5, "tickSize": 4}}
              }
            },
            {
              "mark": {"type": "rule", "color": "black", "strokeWidth": 1.5, "xOffset": -4},
              "encoding": {
                "x": {"datum": "HEL tet+", "type": "nominal", "bandPosition": 0},
                "y": {"datum": 0, "type": "quantitative"},
                "y2": {"datum": 2.5}
              }
            },
            {
              "data": {"name": "dpts"},
              "mark": {"type": "circle", "size": 14, "color": "black", "opacity": 1},
              "encoding": {
                "x": {"field": "cat", "type": "nominal", "title": null},
                "y": {"field": "v", "type": "quantitative", "title": "% TETRAMER + OF CD4+"}
              }
            },
            {
              "data": {"name": "dbr"},
              "mark": {"type": "rule", "color": "black", "strokeWidth": 1.5},
              "encoding": {
                "x": {"field": "a", "type": "nominal", "title": null},
                "x2": {"field": "b"},
                "y": {"field": "y", "type": "quantitative", "title": "% TETRAMER + OF CD4+"}
              }
            },
            {
              "data": {"name": "dlegs"},
              "mark": {"type": "rule", "color": "black", "strokeWidth": 1.5},
              "encoding": {
                "x": {"field": "a", "type": "nominal", "title": null},
                "y": {"field": "y", "type": "quantitative", "title": "% TETRAMER + OF CD4+"},
                "y2": {"field": "y2"}
              }
            },
            {
              "data": {"name": "dbr"},
              "transform": [{"filter": "datum.id === 'b1'"}],
              "mark": {"type": "text", "font": "DejaVu Sans", "fontWeight": "bold", "fontSize": 16, "baseline": "alphabetic", "dy": -1, "color": "black"},
              "encoding": {
                "x": {"field": "m", "type": "nominal", "title": null, "bandPosition": 0.5},
                "y": {"field": "y", "type": "quantitative", "title": "% TETRAMER + OF CD4+"},
                "text": {"field": "s"}
              }
            },
            {
              "data": {"name": "dbr"},
              "transform": [{"filter": "datum.id === 'b2'"}],
              "mark": {"type": "text", "font": "DejaVu Sans", "fontWeight": "bold", "fontSize": 16, "baseline": "alphabetic", "dy": -1, "color": "black"},
              "encoding": {
                "x": {"field": "m", "type": "nominal", "title": null, "bandPosition": 0},
                "y": {"field": "y", "type": "quantitative", "title": "% TETRAMER + OF CD4+"},
                "text": {"field": "s"}
              }
            }
          ]
        },
        {
          "title": {"text": "E", "offset": -9},
          "width": 208,
          "height": 185,
          "layer": [
            {
              "data": {"name": "epts"},
              "mark": {"type": "errorbar", "extent": "stdev", "ticks": {"size": 8}, "color": "#333", "thickness": 1.5},
              "encoding": {
                "x": {"field": "cat", "type": "nominal", "title": null, "sort": ["total CD4+", "6.3HIP tet+", "InsP8G/E tet+", "2.5HIP tet+"], "scale": {"domain": ["total CD4+", "6.3HIP tet+", "InsP8G/E tet+", "2.5HIP tet+"], "paddingInner": 0, "paddingOuter": 0}, "axis": {"title": null, "labelAngle": -45, "labelFontSize": 8, "labelFontWeight": "bold", "labelAlign": "right", "labelBaseline": "top", "tickSize": 4, "domainWidth": 1.5, "tickWidth": 1.5}},
                "xOffset": {"field": "grp", "type": "nominal", "scale": {"domain": ["CD44+ CD62L-", "CD44- CD62L+"], "paddingInner": 0, "paddingOuter": 0.3}},
                "y": {"field": "v", "type": "quantitative", "title": "% of CD4 or tetramer+ CD4 T cells", "scale": {"domain": [0, 138], "nice": false}, "axis": {"titleFontSize": 8.5, "titleFontWeight": "bold", "values": [0, 50, 100], "labelFontSize": 8.5, "labelFontWeight": "bold", "domain": false, "tickWidth": 1.5, "tickSize": 4, "titlePadding": 20}}
              }
            },
            {
              "mark": {"type": "rule", "color": "black", "strokeWidth": 1.5},
              "encoding": {
                "x": {"datum": "total CD4+", "type": "nominal", "bandPosition": 0},
                "y": {"datum": 0, "type": "quantitative"},
                "y2": {"datum": 100}
              }
            },
            {
              "data": {"name": "epts"},
              "mark": {"type": "tick", "thickness": 1.5, "size": 16, "color": "#333"},
              "encoding": {
                "x": {"field": "cat", "type": "nominal", "title": null},
                "xOffset": {"field": "grp", "type": "nominal"},
                "y": {"field": "v", "type": "quantitative", "aggregate": "mean", "title": "% of CD4 or tetramer+ CD4 T cells"}
              }
            },
            {
              "data": {"name": "epts"},
              "mark": {"type": "point", "filled": true, "size": 28, "opacity": 1},
              "encoding": {
                "x": {"field": "cat", "type": "nominal", "title": null},
                "xOffset": {"field": "grp", "type": "nominal"},
                "y": {"field": "v", "type": "quantitative", "title": "% of CD4 or tetramer+ CD4 T cells"},
                "color": {"field": "grp", "type": "nominal", "scale": {"domain": ["CD44+ CD62L-", "CD44- CD62L+"], "range": ["#e8261c", "black"]}, "legend": {"title": null, "orient": "none", "legendX": 213, "legendY": 29, "labelExpr": "split(datum.label, ' ')", "labelFontSize": 10.5, "symbolSize": 40, "rowPadding": 10, "labelOffset": 10}},
                "shape": {"field": "grp", "type": "nominal", "scale": {"domain": ["CD44+ CD62L-", "CD44- CD62L+"], "range": ["circle", "square"]}, "legend": {"title": null, "orient": "none", "legendX": 213, "legendY": 29, "labelExpr": "split(datum.label, ' ')", "labelFontSize": 10.5, "symbolSize": 40, "rowPadding": 10, "labelOffset": 10}}
              }
            },
            {
              "data": {"name": "ebr"},
              "transform": [{"filter": "datum.grp === 'red'"}],
              "mark": {"type": "rule", "color": "black", "strokeWidth": 1.5, "xOffset": -10, "x2Offset": -10},
              "encoding": {
                "x": {"field": "a", "type": "nominal", "title": null},
                "x2": {"field": "b"},
                "y": {"field": "y", "type": "quantitative", "title": "% of CD4 or tetramer+ CD4 T cells"}
              }
            },
            {
              "data": {"name": "ebr"},
              "transform": [{"filter": "datum.grp === 'black'"}],
              "mark": {"type": "rule", "color": "black", "strokeWidth": 1.5, "xOffset": 10, "x2Offset": 10},
              "encoding": {
                "x": {"field": "a", "type": "nominal", "title": null},
                "x2": {"field": "b"},
                "y": {"field": "y", "type": "quantitative", "title": "% of CD4 or tetramer+ CD4 T cells"}
              }
            },
            {
              "data": {"name": "elegs"},
              "transform": [{"filter": "datum.grp === 'red'"}],
              "mark": {"type": "rule", "color": "black", "strokeWidth": 1.5, "xOffset": -10},
              "encoding": {
                "x": {"field": "a", "type": "nominal", "title": null},
                "y": {"field": "y", "type": "quantitative", "title": "% of CD4 or tetramer+ CD4 T cells"},
                "y2": {"field": "y2"}
              }
            },
            {
              "data": {"name": "elegs"},
              "transform": [{"filter": "datum.grp === 'black'"}],
              "mark": {"type": "rule", "color": "black", "strokeWidth": 1.5, "xOffset": 10},
              "encoding": {
                "x": {"field": "a", "type": "nominal", "title": null},
                "y": {"field": "y", "type": "quantitative", "title": "% of CD4 or tetramer+ CD4 T cells"},
                "y2": {"field": "y2"}
              }
            },
            {
              "data": {"name": "ebr"},
              "transform": [{"filter": {"field": "id", "oneOf": ["r1", "r3"]}}],
              "mark": {"type": "text", "font": "DejaVu Sans", "fontWeight": "bold", "fontSize": 14, "baseline": "alphabetic", "dy": -1, "xOffset": -10, "color": "black"},
              "encoding": {
                "x": {"field": "m", "type": "nominal", "title": null, "bandPosition": 0},
                "y": {"field": "y", "type": "quantitative", "title": "% of CD4 or tetramer+ CD4 T cells"},
                "text": {"field": "s"}
              }
            },
            {
              "data": {"name": "ebr"},
              "transform": [{"filter": {"field": "id", "oneOf": ["r2"]}}],
              "mark": {"type": "text", "font": "DejaVu Sans", "fontWeight": "bold", "fontSize": 14, "baseline": "alphabetic", "dy": -1, "xOffset": -10, "color": "black"},
              "encoding": {
                "x": {"field": "m", "type": "nominal", "title": null, "bandPosition": 0.5},
                "y": {"field": "y", "type": "quantitative", "title": "% of CD4 or tetramer+ CD4 T cells"},
                "text": {"field": "s"}
              }
            },
            {
              "data": {"name": "ebr"},
              "transform": [{"filter": {"field": "id", "oneOf": ["k4", "k6"]}}],
              "mark": {"type": "text", "font": "DejaVu Sans", "fontWeight": "bold", "fontSize": 14, "baseline": "alphabetic", "dy": -1, "xOffset": 10, "color": "black"},
              "encoding": {
                "x": {"field": "m", "type": "nominal", "title": null, "bandPosition": 0},
                "y": {"field": "y", "type": "quantitative", "title": "% of CD4 or tetramer+ CD4 T cells"},
                "text": {"field": "s"}
              }
            },
            {
              "data": {"name": "ebr"},
              "transform": [{"filter": {"field": "id", "oneOf": ["k5"]}}],
              "mark": {"type": "text", "font": "DejaVu Sans", "fontWeight": "bold", "fontSize": 14, "baseline": "alphabetic", "dy": -1, "xOffset": 10, "color": "black"},
              "encoding": {
                "x": {"field": "m", "type": "nominal", "title": null, "bandPosition": 0.5},
                "y": {"field": "y", "type": "quantitative", "title": "% of CD4 or tetramer+ CD4 T cells"},
                "text": {"field": "s"}
              }
            }
          ]
        }
      ]
    }
  ]
}
